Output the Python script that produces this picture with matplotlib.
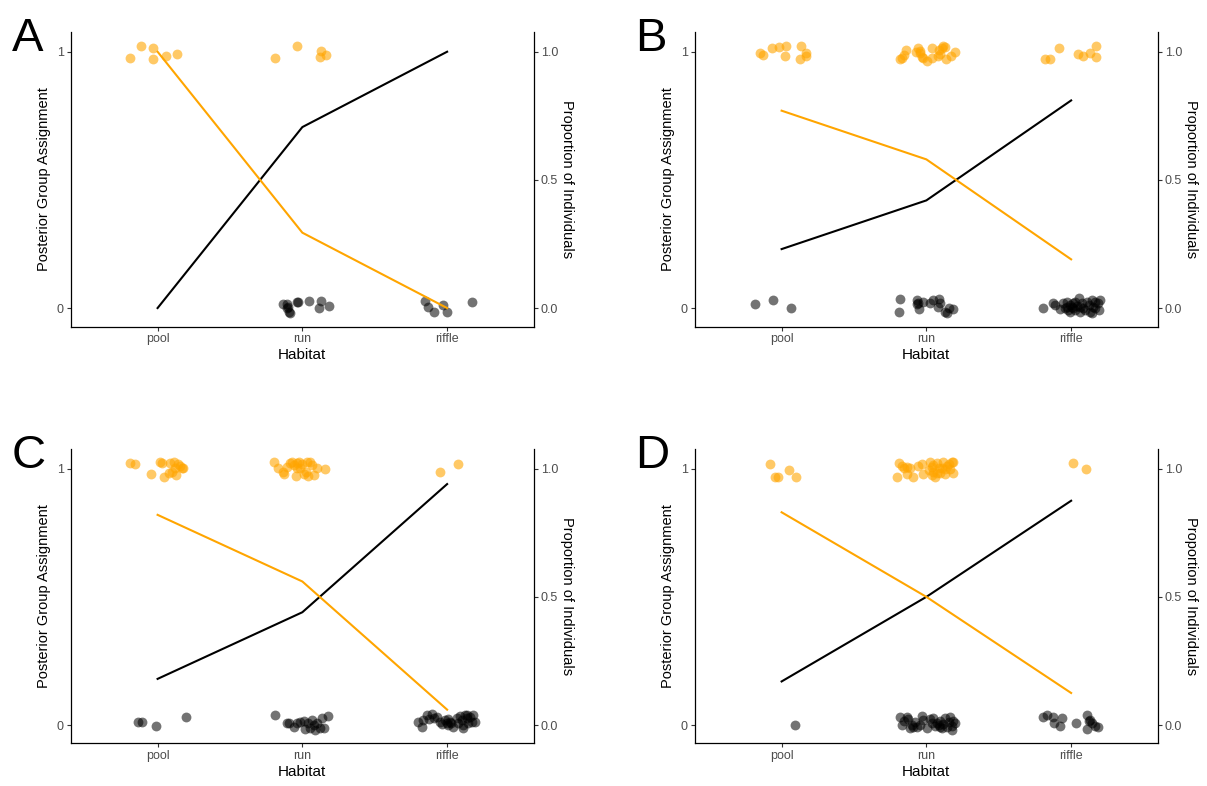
import matplotlib
matplotlib.use("Agg")
import matplotlib.pyplot as plt

plt.rcParams['font.family'] = ['Liberation Sans', 'DejaVu Sans']

habitats = ["pool", "run", "riffle"]
hab_pos = [1, 2, 3]

# ---------------------------------------------------
# Panel A
# ---------------------------------------------------
a_or_x = [0.807, 0.887, 0.968, 0.968, 1.060, 1.134,
          1.810, 1.966, 2.132, 2.123, 2.162]
a_or_y = [0.974, 1.022, 1.013, 0.970, 0.983, 0.991,
          0.974, 1.023, 1.004, 0.980, 0.986]
a_bk_x = [1.865, 1.893, 1.904, 1.911, 1.916, 1.971, 2.049, 2.128, 2.116, 2.183, 1.895, 1.964,
          2.848, 2.871, 2.912, 2.974, 2.998, 3.175]
a_bk_y = [0.016, 0.014, 0.005, -0.017, -0.021, 0.025, 0.028, 0.028, -0.001, 0.008, 0.000, 0.023,
          0.027, 0.005, -0.017, 0.012, -0.014, 0.023]
a_or_line = [1.0, 0.294, 0.0]
a_bk_line = [0.0, 0.706, 1.0]

# ---------------------------------------------------
# Panel B
# ---------------------------------------------------
b_or_x = [0.848, 0.872, 0.934, 0.984, 1.030, 1.026, 1.136, 1.129, 1.166, 1.171,
          1.819, 1.835, 1.847, 1.861, 1.930, 1.945, 1.957, 1.969, 1.976, 2.003, 2.038,
          2.042, 2.077, 2.090, 2.095, 2.114, 2.130, 2.137, 2.169, 2.199, 2.107, 1.957,
          2.821, 2.855, 2.917, 3.046, 3.085, 3.131, 3.170, 3.170]
b_or_y = [0.996, 0.986, 1.016, 1.020, 1.021, 0.983, 1.023, 0.970, 0.983, 0.994,
          0.970, 0.974, 0.987, 1.007, 1.000, 1.013, 0.994, 0.981, 0.974, 0.964, 1.013,
          0.974, 0.983, 1.007, 0.991, 1.022, 1.020, 0.970, 0.983, 0.999, 1.013, 1.004,
          0.970, 0.970, 1.016, 0.990, 0.983, 0.996, 1.023, 0.978]
b_bk_x = [0.814, 0.943, 1.067,
          1.819, 1.814, 1.934, 1.939, 1.946, 1.976, 2.026, 2.049, 2.077, 2.090, 2.095,
          2.141, 2.153, 2.187, 2.130, 1.934,
          2.805, 2.876, 2.890, 2.924, 2.947, 2.970, 2.981, 2.993, 3.005, 3.016, 3.028,
          3.039, 3.051, 3.062, 3.074, 3.085, 3.108, 3.120, 3.131, 3.143, 3.154, 3.166,
          3.189, 3.194, 3.200, 3.143, 2.959, 3.028, 3.062, 3.097, 3.166, 2.993, 3.016, 2.970]
b_bk_y = [0.017, 0.031, 0.001,
          0.034, -0.014, 0.031, 0.018, -0.004, 0.023, 0.018, 0.031, 0.005, 0.034, 0.018,
          -0.021, -0.001, -0.005, -0.014, 0.016,
          -0.001, 0.018, 0.012, -0.005, 0.018, 0.025, -0.008, 0.012, 0.005, 0.018, -0.008,
          0.008, 0.038, -0.014, 0.018, -0.001, 0.025, 0.012, -0.014, 0.031, 0.005, 0.025,
          0.018, -0.008, 0.031, -0.021, -0.001, 0.025, 0.005, -0.008, -0.001, -0.014, -0.001, 0.005]
b_or_line = [0.77, 0.58, 0.19]
b_bk_line = [0.23, 0.42, 0.81]

# ---------------------------------------------------
# Panel C
# ---------------------------------------------------
c_or_x = [0.807, 0.846, 0.954, 1.014, 1.030, 1.042, 1.088, 1.099, 1.110, 1.129, 1.138,
          1.157, 1.168, 1.175, 1.076, 1.122,
          1.805, 1.835, 1.865, 1.874, 1.893, 1.916, 1.928, 1.939, 1.957, 1.966, 1.980,
          1.996, 2.008, 2.026, 2.035, 2.042, 2.054, 2.065, 2.077, 2.104, 2.159, 1.985, 1.962,
          2.952, 3.078]
c_or_y = [1.021, 1.018, 0.981, 1.027, 1.023, 0.969, 1.021, 0.988, 1.025, 0.975, 1.018,
          1.012, 1.002, 1.004, 0.982, 1.002,
          1.027, 1.004, 0.988, 0.978, 1.008, 1.021, 1.027, 1.014, 0.971, 1.021, 1.027,
          1.017, 0.978, 0.986, 1.025, 0.973, 1.027, 1.014, 0.975, 1.002, 0.999, 1.002, 1.004,
          0.986, 1.017]
c_bk_x = [0.862, 0.892, 0.991, 1.198,
          1.812, 1.893, 1.911, 1.939, 1.962, 1.985, 2.012, 2.019, 2.042, 2.065, 2.077,
          2.088, 2.104, 2.123, 2.134, 2.150, 2.180, 2.054,
          2.802, 2.825, 2.836, 2.860, 2.894, 2.906, 2.929, 2.952, 2.964, 2.986, 2.998,
          3.009, 3.021, 3.044, 3.067, 3.078, 3.090, 3.101, 3.113, 3.124, 3.136, 3.147,
          3.159, 3.170, 3.182, 3.193, 3.113, 3.030, 3.009, 2.872, 3.136]
c_bk_y = [0.013, 0.013, -0.004, 0.030,
          0.039, 0.009, 0.007, -0.007, 0.007, 0.013, 0.017, -0.017, 0.007, 0.020, 0.000,
          -0.020, 0.009, -0.013, 0.026, -0.013, 0.035, -0.013,
          0.013, -0.007, 0.020, 0.039, 0.043, 0.026, 0.032, 0.013, 0.004, 0.020, 0.009,
          0.000, 0.013, -0.007, 0.026, 0.007, 0.035, 0.020, 0.000, 0.039, 0.026, 0.009,
          0.032, 0.013, 0.039, 0.013, -0.013, 0.007, 0.022, 0.022, 0.039]
c_or_line = [0.82, 0.56, 0.06]
c_bk_line = [0.18, 0.44, 0.94]

# ---------------------------------------------------
# Panel D
# ---------------------------------------------------
d_or_x = [0.922, 0.957, 0.973, 1.053, 1.101,
          1.800, 1.814, 1.831, 1.847, 1.865, 1.884, 1.911, 1.945, 1.969, 1.980, 2.026,
          2.038, 2.049, 2.061, 2.072, 2.084, 2.095, 2.118, 2.130, 2.141, 2.153, 2.164,
          2.176, 2.187, 2.187, 2.038, 2.072, 2.015, 2.107, 2.049, 1.865, 2.130,
          3.016, 3.101]
d_or_y = [1.018, 0.969, 0.969, 0.995, 0.969,
          0.969, 1.021, 1.012, 1.002, 0.978, 1.004, 0.969, 1.012, 1.017, 0.978, 1.027,
          1.008, 0.988, 0.969, 1.021, 1.002, 0.982, 1.027, 0.978, 1.012, 1.017, 0.999,
          1.025, 1.027, 0.982, 0.975, 0.982, 0.995, 1.002, 1.014, 1.008, 0.999,
          1.023, 0.998]
d_bk_x = [1.095,
          1.816, 1.831, 1.847, 1.865, 1.876, 1.888, 1.900, 1.922, 1.934, 1.957, 1.969,
          1.980, 2.003, 2.026, 2.038, 2.049, 2.061, 2.072, 2.084, 2.095, 2.107, 2.118,
          2.130, 2.141, 2.153, 2.164, 2.176, 2.187, 2.199, 2.176, 2.095, 1.911,
          2.809, 2.832, 2.878, 2.883, 2.924, 2.936, 3.035, 3.108, 3.120, 3.113, 3.143,
          3.166, 3.189, 3.131]
d_bk_y = [0.000,
          0.030, 0.000, 0.017, 0.032, 0.022, -0.013, 0.000, 0.013, -0.007, 0.000, 0.035,
          0.020, -0.013, 0.022, 0.007, 0.026, -0.004, 0.009, 0.000, 0.017, -0.013, 0.004,
          0.026, -0.007, 0.013, 0.032, -0.004, 0.017, 0.007, -0.020, -0.007, -0.007,
          0.030, 0.039, 0.032, 0.007, -0.004, 0.026, 0.009, 0.039, 0.017, -0.017, 0.007,
          -0.004, -0.007, 0.020]
d_or_line = [0.83, 0.50, 0.125]
d_bk_line = [0.17, 0.50, 0.875]

ORANGE = "#FFA500"
TICK_COL = "#4D4D4D"


def draw_panel(rect, or_x, or_y, bk_x, bk_y, or_line, bk_line, letter):
    ax = fig.add_axes(rect)
    # jittered posterior assignments
    ax.scatter(bk_x, bk_y, s=50, color="black", alpha=0.55, linewidths=0, zorder=2)
    ax.scatter(or_x, or_y, s=50, color=ORANGE, alpha=0.6, linewidths=0, zorder=2)
    # proportion lines
    ax.plot(hab_pos, bk_line, color="black", lw=1.5, zorder=3)
    ax.plot(hab_pos, or_line, color=ORANGE, lw=1.5, zorder=3)

    ax.set_xlim(0.4, 3.6)
    ax.set_ylim(-0.072, 1.077)
    ax.set_xticks(hab_pos)
    ax.set_xticklabels(habitats)
    ax.set_yticks([0, 1])
    ax.set_yticklabels(["0", "1"])
    ax.set_xlabel("Habitat", fontsize=11, labelpad=2)
    ax.set_ylabel("Posterior Group Assignment", fontsize=10.5, labelpad=4)
    for s in ["top", "right"]:
        ax.spines[s].set_visible(False)
    for s in ["left", "bottom"]:
        ax.spines[s].set_linewidth(0.9)
    ax.tick_params(length=3, width=0.8, color="#333333", labelsize=9,
                   labelcolor=TICK_COL, pad=2)

    ax2 = ax.twinx()
    ax2.set_ylim(-0.072, 1.077)
    ax2.set_yticks([0, 0.5, 1.0])
    ax2.set_yticklabels(["0.0", "0.5", "1.0"])
    ax2.set_ylabel("Proportion of Individuals", fontsize=10.5, rotation=270,
                   va="bottom", labelpad=1)
    for s in ["top", "left", "bottom"]:
        ax2.spines[s].set_visible(False)
    ax2.spines["right"].set_linewidth(0.9)
    ax2.tick_params(length=3, width=0.8, color="#333333", labelsize=9,
                    labelcolor=TICK_COL, pad=2)

    fig.text(rect[0] - 0.049, rect[1] + rect[3] - 0.024, letter, fontsize=34,
             ha="left", va="baseline")
    return ax


fig = plt.figure(figsize=(12.07, 7.86), dpi=100)

w, h = 0.3838, 0.3747
draw_panel([0.0586, 0.5846, w, h], a_or_x, a_or_y, a_bk_x, a_bk_y, a_or_line, a_bk_line, "A")
draw_panel([0.5756, 0.5846, w, h], b_or_x, b_or_y, b_bk_x, b_bk_y, b_or_line, b_bk_line, "B")
draw_panel([0.0586, 0.0541, w, h], c_or_x, c_or_y, c_bk_x, c_bk_y, c_or_line, c_bk_line, "C")
draw_panel([0.5756, 0.0541, w, h], d_or_x, d_or_y, d_bk_x, d_bk_y, d_or_line, d_bk_line, "D")

fig.savefig("out.png", dpi=100)
